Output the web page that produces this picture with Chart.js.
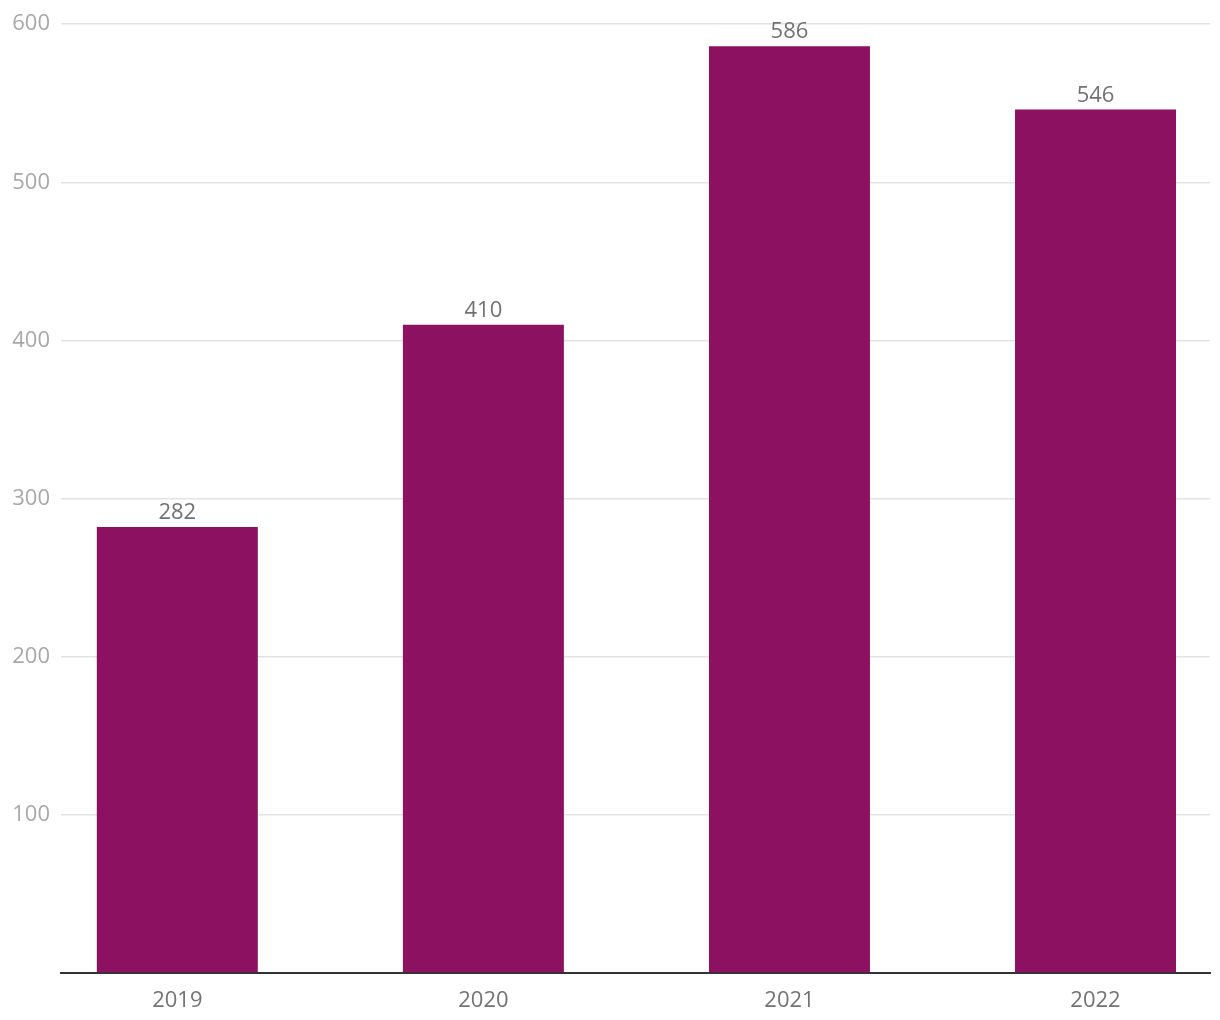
<!DOCTYPE html>
<html>
<head>
<meta charset="utf-8">
<script src="https://cdn.jsdelivr.net/npm/chart.js@4"></script>
<style>
  body { margin: 0; background: #fff; }
  #wrap { width: 1220px; height: 1020px; }
</style>
</head>
<body>
<div id="wrap"><canvas id="chart"></canvas></div>
<script>
// data
const years = [2019, 2020, 2021, 2022];
const counts = [282, 410, 586, 546];
const yTicks = [0, 100, 200, 300, 400, 500, 600];

const FONT = '"Open Sans", "Noto Sans", sans-serif';

// value labels above each bar
const barLabels = {
  id: 'barLabels',
  afterDatasetsDraw(chart) {
    const ctx = chart.ctx;
    const meta = chart.getDatasetMeta(0);
    ctx.save();
    ctx.font = '22px ' + FONT;
    ctx.fillStyle = '#727272';
    ctx.textAlign = 'center';
    ctx.textBaseline = 'alphabetic';
    meta.data.forEach((bar, i) => {
      ctx.fillText(String(counts[i]), bar.x, bar.y - 8);
    });
    ctx.restore();
  }
};

new Chart(document.getElementById('chart'), {
  type: 'bar',
  data: {
    datasets: [{
      data: years.map((y, i) => ({ x: y, y: counts[i] })),
      backgroundColor: '#8c1160',
      borderWidth: 0,
      categoryPercentage: 1,
      barPercentage: 0.526
    }]
  },
  options: {
    responsive: true,
    maintainAspectRatio: false,
    animation: false,
    layout: { padding: { top: 21, right: 10, left: 0, bottom: 0 } },
    plugins: {
      legend: { display: false },
      tooltip: { enabled: false }
    },
    scales: {
      x: {
        type: 'linear',
        offset: false,
        bounds: 'data',
        min: 2018.62,
        max: 2022.374,
        afterBuildTicks: s => { s.ticks = years.map(v => ({ value: v })); },
        afterFit: s => { s.height = 47; },
        grid: { display: false, drawTicks: false, offset: false },
        border: { display: true, color: '#333333', width: 2 },
        ticks: {
          padding: 15,
          color: '#737373',
          font: { family: FONT, size: 22 },
          callback: v => String(v)
        }
      },
      y: {
        min: 0,
        max: 600,
        afterBuildTicks: s => { s.ticks = yTicks.map(v => ({ value: v })); },
        afterFit: s => { s.width = 61; },
        grid: { color: '#e3e3e3', lineWidth: 1.5, drawTicks: false },
        border: { display: false },
        ticks: {
          padding: 11,
          color: '#a8a8a8',
          font: { family: FONT, size: 22 },
          callback: v => v === 0 ? '' : String(v)
        }
      }
    }
  },
  plugins: [barLabels]
});
</script>
</body>
</html>
